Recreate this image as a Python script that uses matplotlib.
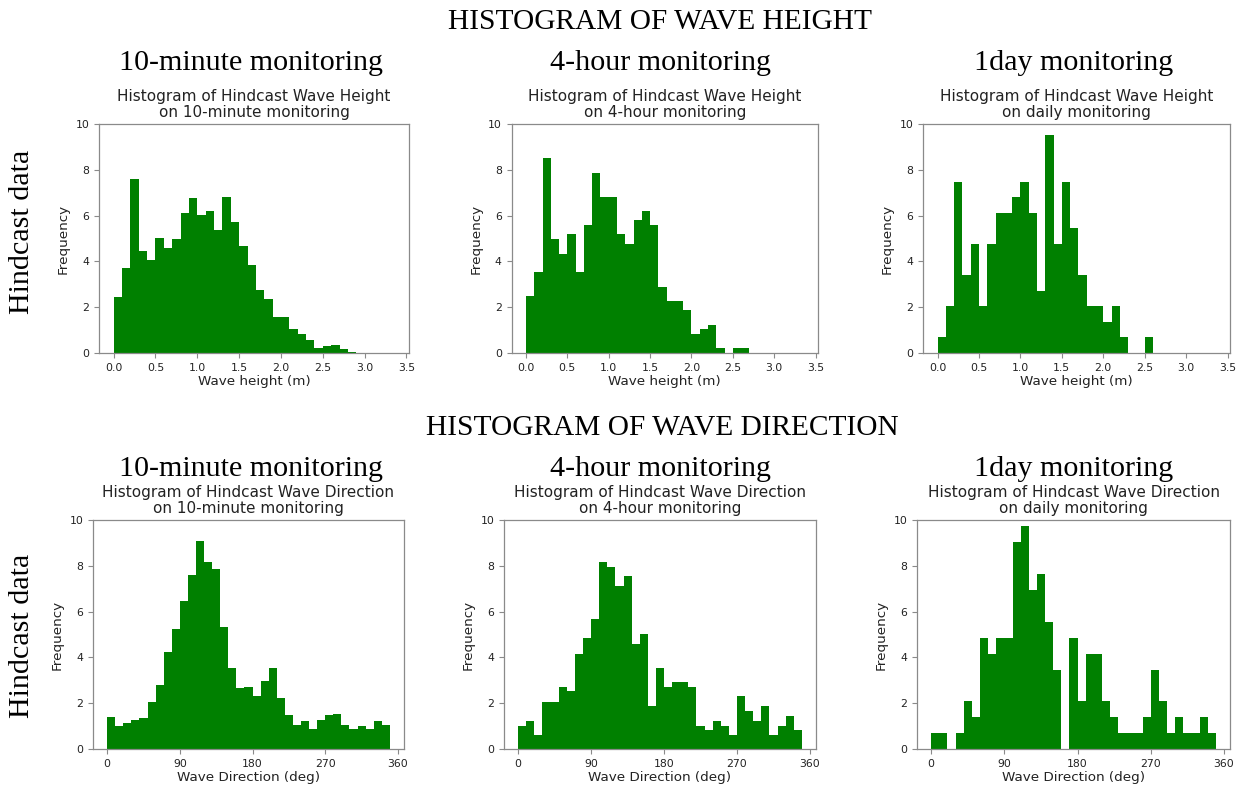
import numpy as np
import matplotlib
matplotlib.use("Agg")
import matplotlib.pyplot as plt

# ---------------- data (percent frequency per bin) ----------------
height_bin_width = 0.1
direction_bin_width = 10

height_10min = [2.46, 3.70, 7.61, 4.45, 4.08, 5.04, 4.57, 4.99, 6.13, 6.77,
                6.04, 6.22, 5.39, 6.83, 5.71, 4.66, 3.83, 2.75, 2.37, 1.59,
                1.59, 1.06, 0.84, 0.58, 0.22, 0.29, 0.35, 0.16, 0.03]
height_4hour = [2.47, 3.53, 8.50, 4.98, 4.33, 5.18, 3.53, 5.60, 7.86, 6.82,
                6.82, 5.18, 4.75, 5.81, 6.21, 5.60, 2.90, 2.26, 2.26, 1.86,
                0.82, 1.03, 1.23, 0.21, 0.00, 0.21, 0.21]
height_daily = [0.68, 2.04, 7.48, 3.40, 4.76, 2.04, 4.76, 6.12, 6.12, 6.80,
                7.48, 6.12, 2.72, 9.52, 4.76, 7.48, 5.44, 3.40, 2.04, 2.04,
                1.36, 2.04, 0.68, 0.00, 0.00, 0.68]

dir_10min = [1.40, 0.99, 1.14, 1.27, 1.35, 2.05, 2.79, 4.24, 5.24, 6.45,
             7.61, 9.10, 8.15, 7.87, 5.33, 3.55, 2.66, 2.71, 2.31, 2.97,
             3.52, 2.24, 1.48, 1.06, 1.21, 0.86, 1.27, 1.48, 1.51, 1.03,
             0.89, 1.02, 0.89, 1.24, 1.06]
dir_4hour = [1.02, 1.22, 0.61, 2.07, 2.07, 2.71, 2.52, 4.16, 4.83, 5.68,
             8.15, 7.96, 7.13, 7.54, 4.60, 5.01, 1.86, 3.55, 2.71, 2.91,
             2.91, 2.71, 1.00, 0.83, 1.22, 1.02, 0.61, 2.30, 1.66, 1.22,
             1.86, 0.61, 1.02, 1.44, 0.83]
dir_daily = [0.69, 0.69, 0.00, 0.69, 2.08, 1.39, 4.86, 4.17, 4.86, 4.86,
             9.03, 9.72, 6.94, 7.64, 5.56, 3.47, 0.00, 4.86, 2.08, 4.17,
             4.17, 2.08, 1.39, 0.69, 0.69, 0.69, 1.39, 3.47, 2.08, 0.69,
             1.39, 0.69, 0.69, 1.39, 0.69]

column_titles = ["10-minute monitoring", "4-hour monitoring", "1day monitoring"]
period_names = ["10-minute", "4-hour", "daily"]
row_titles = ["HISTOGRAM OF WAVE HEIGHT", "HISTOGRAM OF WAVE DIRECTION"]
height_ticks = [0.0, 0.5, 1.0, 1.5, 2.0, 2.5, 3.0, 3.5]
direction_ticks = [0, 90, 180, 270, 360]
y_ticks = [0, 2, 4, 6, 8, 10]

# ---------------- layout ----------------
W, H = 1240, 785
fig = plt.figure(figsize=(W / 100, H / 100), dpi=100)
SERIF = ["Liberation Serif", "DejaVu Serif"]
TXT = "#222222"
SPINE = "#8a8a8a"


def add_ax(l, r, t, b):
    return fig.add_axes([l / W, 1 - b / H, (r - l) / W, (b - t) / H])


def ftext(x, y, s, **kw):
    fig.text(x / W, 1 - y / H, s, **kw)


top_boxes = [(99, 409), (511.5, 818), (923, 1230)]
bot_boxes = [(93, 404), (504, 816), (917, 1230)]
top_tb = (124, 353)
bot_tb = (520, 749)

heights = [height_10min, height_4hour, height_daily]
dirs = [dir_10min, dir_4hour, dir_daily]


def style(ax):
    for sp in ax.spines.values():
        sp.set_color(SPINE)
        sp.set_linewidth(0.9)
    ax.tick_params(colors=SPINE, labelcolor=TXT, labelsize=7.8, length=3.5, width=0.8)
    ax.set_ylim(0, 10)
    ax.set_yticks(y_ticks)
    ax.set_ylabel("Frequency", fontsize=9.7, color=TXT, labelpad=4)


for i in range(3):
    # wave height row
    l, r = top_boxes[i]
    ax = add_ax(l, r, *top_tb)
    vals = heights[i]
    edges = np.arange(len(vals) + 1) * height_bin_width
    ax.hist(edges[:-1], bins=edges, weights=vals, color="#008000")
    ax.set_xlim(-0.175, 3.53)
    ax.set_xticks(height_ticks)
    ax.set_xticklabels([f"{t:.1f}" for t in height_ticks])
    style(ax)
    ax.set_xlabel("Wave height (m)", fontsize=9.7, color=TXT, labelpad=1.5)
    ax.set_title(f"Histogram of Hindcast Wave Height\non {period_names[i]} monitoring",
                 fontsize=11, color=TXT, pad=5, linespacing=1.05)

    # wave direction row
    l, r = bot_boxes[i]
    ax = add_ax(l, r, *bot_tb)
    vals = dirs[i]
    edges = np.arange(len(vals) + 1) * direction_bin_width
    ax.hist(edges[:-1], bins=edges, weights=vals, color="#008000")
    ax.set_xlim(-17.5, 367.5)
    ax.set_xticks(direction_ticks)
    style(ax)
    ax.set_xlabel("Wave Direction (deg)", fontsize=9.7, color=TXT, labelpad=1.5)
    ax.set_title(f"Histogram of Hindcast Wave Direction\non {period_names[i]} monitoring",
                 fontsize=11, color=TXT, pad=5, linespacing=1.05)

# serif headings
ftext(660, 22, row_titles[0], family=SERIF, fontsize=21.2, ha="center", va="center", color="black")
ftext(662, 428, row_titles[1], family=SERIF, fontsize=21.2, ha="center", va="center", color="black")
col_x = [251, 661, 1074]
for cx, ct in zip(col_x, column_titles):
    ftext(cx, 63, ct, family=SERIF, fontsize=21.6, ha="center", va="center", color="black")
    ftext(cx, 469, ct, family=SERIF, fontsize=21.6, ha="center", va="center", color="black")
ftext(22, 232, "Hindcast data", family=SERIF, fontsize=21.6, rotation=90,
      ha="center", va="center", color="black")
ftext(22, 636, "Hindcast data", family=SERIF, fontsize=21.6, rotation=90,
      ha="center", va="center", color="black")

fig.savefig("out.png", dpi=100)
